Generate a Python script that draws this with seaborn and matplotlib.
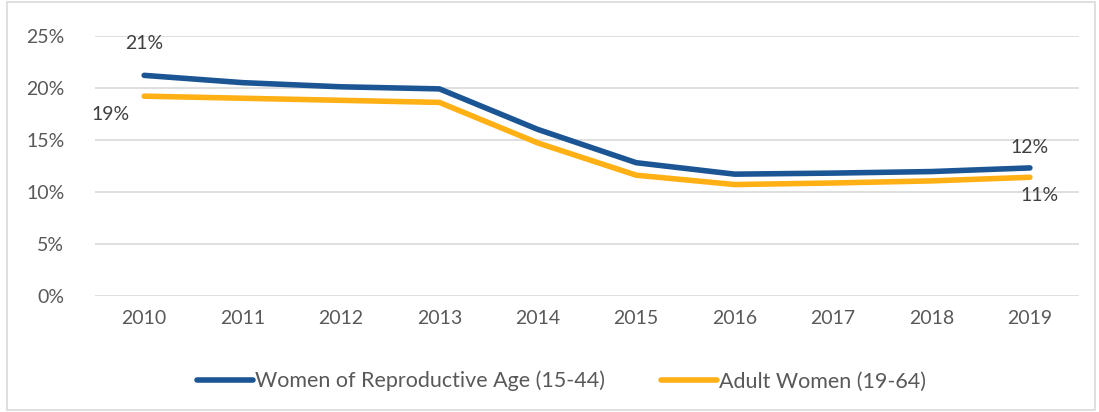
import pandas as pd
import matplotlib.pyplot as plt
import seaborn as sns
from matplotlib.patches import Rectangle
from matplotlib.ticker import PercentFormatter

# Data (percent uninsured)
years = ["2010", "2011", "2012", "2013", "2014", "2015", "2016", "2017", "2018", "2019"]
reproductive_age = [21.2, 20.5, 20.1, 19.9, 16.0, 12.8, 11.7, 11.8, 11.95, 12.3]
adult_women = [19.2, 19.0, 18.8, 18.6, 14.7, 11.6, 10.7, 10.85, 11.05, 11.4]
series_names = ["Women of Reproductive Age (15-44)", "Adult Women (19-64)"]
colors = ["#1B5594", "#FFB014"]

df = pd.DataFrame({
    "year": years * 2,
    "value": reproductive_age + adult_women,
    "series": [series_names[0]] * len(years) + [series_names[1]] * len(years),
})

sns.set_style("white")
plt.rcParams["font.family"] = ["Lato", "DejaVu Sans"]
text_color = "#595959"

fig = plt.figure(figsize=(10.99, 4.12), dpi=100)
ax = fig.add_axes([0.0864, 0.282, 0.8955, 0.631])

sns.lineplot(data=df, x="year", y="value", hue="series", palette=colors,
             linewidth=4, sort=False, ax=ax, solid_capstyle="round")

ax.set_xlim(-0.5, len(years) - 0.5)
ax.set_ylim(0, 25)
ax.set_yticks(range(0, 26, 5))
ax.yaxis.set_major_formatter(PercentFormatter(decimals=0))
ax.grid(axis="y", color="#D9D9D9", linewidth=1.2)
ax.set_axisbelow(True)
for s in ax.spines.values():
    s.set_visible(False)
ax.tick_params(axis="both", length=0, labelsize=14, labelcolor=text_color)
ax.tick_params(axis="y", pad=22)
ax.tick_params(axis="x", pad=10)
ax.set_xlabel("")
ax.set_ylabel("")

# end-point labels
lab = dict(fontsize=14, color="#404040")
ax.annotate(f"{reproductive_age[0]:.0f}%", (0, reproductive_age[0]), xytext=(0, 23),
            textcoords="offset points", ha="center", va="center", **lab)
ax.annotate(f"{adult_women[0]:.0f}%", (0, adult_women[0]), xytext=(-24, -13),
            textcoords="offset points", ha="center", va="center", **lab)
ax.annotate(f"{reproductive_age[-1]:.0f}%", (9, reproductive_age[-1]), xytext=(0, 15),
            textcoords="offset points", ha="center", va="center", **lab)
ax.annotate(f"{adult_women[-1]:.0f}%", (9, adult_women[-1]), xytext=(7, -13),
            textcoords="offset points", ha="center", va="center", **lab)

handles, labels = ax.get_legend_handles_labels()
ax.legend(handles, labels, loc="center", bbox_to_anchor=(0.511, 0.075),
          bbox_transform=fig.transFigure, ncol=2, frameon=False,
          fontsize=15.5, handlelength=2.6, handletextpad=0.1, columnspacing=2.6,
          labelcolor=text_color)

# light border around the whole chart
fig.patches.append(Rectangle((0.006, 0.004), 0.99, 0.992, transform=fig.transFigure,
                             fill=False, edgecolor="#D9D9D9", linewidth=1.2))

fig.savefig("out.png", dpi=100)
